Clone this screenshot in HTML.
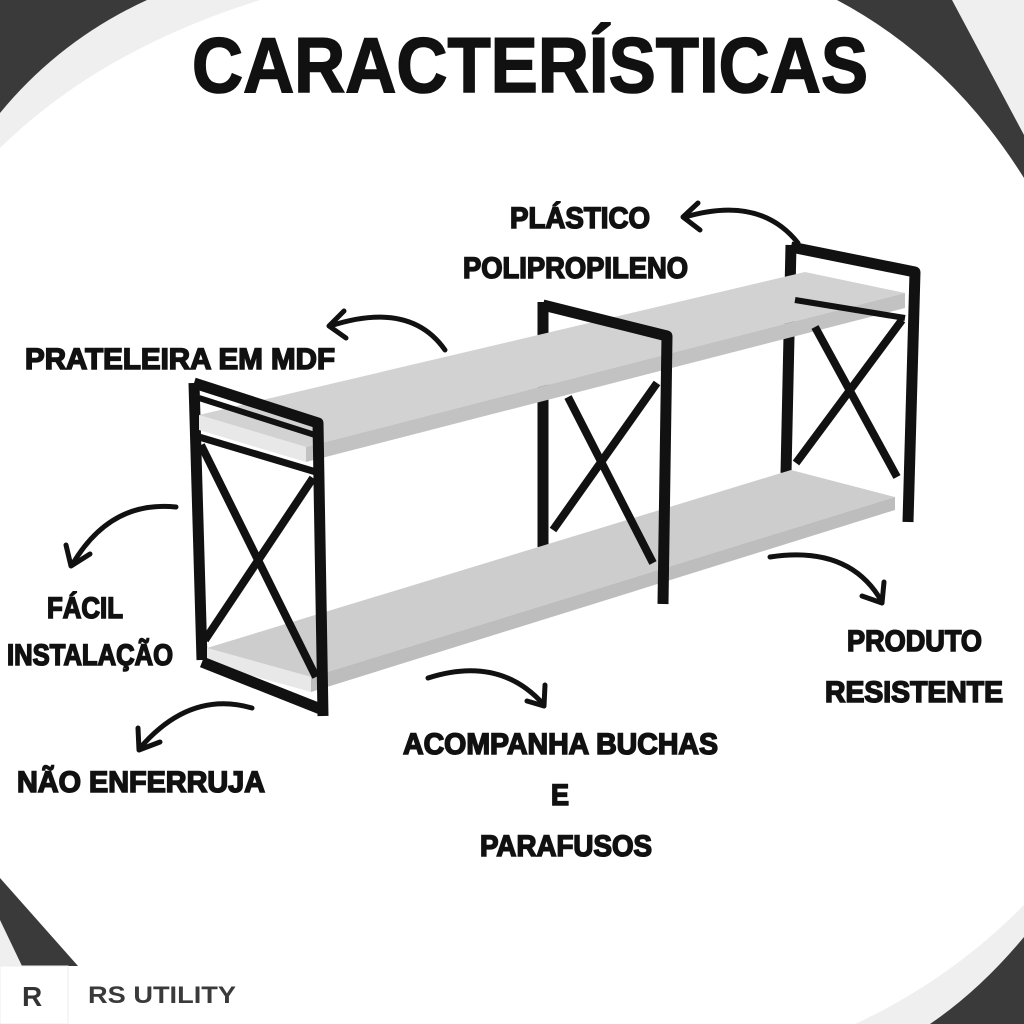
<!DOCTYPE html>
<html><head><meta charset="utf-8"><style>
html,body{margin:0;padding:0;background:#fff;}
svg{display:block;}
.t{font-family:"Liberation Sans",sans-serif;font-weight:bold;fill:#111;stroke:#111;stroke-width:1.6;}
</style></head><body>
<svg width="1024" height="1024" viewBox="0 0 1024 1024" xmlns="http://www.w3.org/2000/svg">
<!-- corners -->
<path d="M0,0 L260,0 Q100,50 0,148 Z" fill="#efefef"/>
<path d="M0,0 L147,0 Q60,40 0,113 Z" fill="#3a3a3a"/>
<path d="M952,0 L1024,0 L1024,135 Z" fill="#efefef"/>
<path d="M837,0 L952,0 L1024,135 L1024,178 Q950,60 837,0 Z" fill="#3a3a3a"/>
<path d="M0,878 L78,966 L0,966 Z" fill="#3a3a3a"/>
<path d="M0,920 L22,966 L0,966 Z" fill="#efefef"/>
<path d="M1024,905 Q950,980 855,1024 L1024,1024 Z" fill="#efefef"/>
<path d="M1024,937 Q980,990 930,1024 L1024,1024 Z" fill="#3a3a3a"/>

<!-- title -->
<text class="t" x="192" y="92" font-size="78" textLength="676" lengthAdjust="spacingAndGlyphs" stroke-width="4">CARACTERÍSTICAS</text>

<!-- shelves -->
<g stroke-linejoin="round">
<polyline points="791,245 786,473" fill="none" stroke="#111" stroke-width="11"/>
<polyline points="543,302 543,547" fill="none" stroke="#111" stroke-width="11"/>
<polyline points="194,383 202,660" fill="none" stroke="#111" stroke-width="11"/>

<!-- top shelf -->
<polygon points="199,415 805,272 905,293 306,447" fill="#d2d2d2"/>
<polygon points="199,415 306,447 306,462 199,430" fill="#e8e8e8"/>
<polygon points="306,447 905,293 905,308 306,462" fill="#c2c2c2"/>
<!-- bottom shelf -->
<polygon points="207,648 791,470 895,497 311,677" fill="#cdcdcd"/>
<polygon points="207,648 311,677 311,692 207,663" fill="#e8e8e8"/>
<polygon points="311,677 895,497 895,510 311,692" fill="#bdbdbd"/>

<!-- left frame -->
<g fill="none" stroke="#111" stroke-width="11">
<polyline points="194,383 318,423 323,716"/>
<polyline points="202,662 323,710"/>
<line x1="199" y1="398" x2="315" y2="435" stroke-width="6"/>
<line x1="199" y1="437" x2="316" y2="472" stroke-width="7"/>
<line x1="201" y1="445" x2="316" y2="677" stroke-width="8"/>
<line x1="313" y1="478" x2="205" y2="640" stroke-width="8"/>
</g>
<!-- middle frame -->
<g fill="none" stroke="#111" stroke-width="11">
<polyline points="543,305 667,336 663,604"/>
<line x1="548" y1="385" x2="660" y2="378" stroke-width="0"/>
<line x1="568" y1="397" x2="653" y2="563" stroke-width="8"/>
<line x1="657" y1="383" x2="553" y2="530" stroke-width="8"/>
</g>
<!-- right frame -->
<g fill="none" stroke="#111" stroke-width="11">
<polyline points="791,247 915,272 908,522"/>
<line x1="795" y1="300" x2="905" y2="318" stroke-width="6"/>
<line x1="815" y1="327" x2="897" y2="477" stroke-width="8"/>
<line x1="902" y1="320" x2="796" y2="463" stroke-width="8"/>
</g>
</g>

<!-- arrows -->
<g fill="none" stroke="#111" stroke-width="5" stroke-linecap="round" stroke-linejoin="round">
<path d="M798,243 Q760,195 685,217"/><path d="M698,203 L683,217 L700,230"/>
<path d="M445,350 Q410,300 330,326"/><path d="M344,311 L329,326 L346,338"/>
<path d="M176,507 Q110,500 72,565"/><path d="M66,545 L71,566 L90,554"/>
<path d="M252,708 Q190,690 140,748"/><path d="M138,728 L139,750 L160,742"/>
<path d="M428,678 Q500,655 544,705"/><path d="M527,701 L544,706 L545,685"/>
<path d="M770,557 Q850,545 882,602"/><path d="M862,596 L882,603 L884,582"/>
</g>

<!-- labels -->
<g class="t" font-size="30">
<text x="510" y="228" textLength="140" lengthAdjust="spacingAndGlyphs">PLÁSTICO</text>
<text x="463" y="278" textLength="225" lengthAdjust="spacingAndGlyphs">POLIPROPILENO</text>
<text x="25" y="369" textLength="310" lengthAdjust="spacingAndGlyphs">PRATELEIRA EM MDF</text>
<text x="47" y="618" textLength="76" lengthAdjust="spacingAndGlyphs">FÁCIL</text>
<text x="7" y="665" textLength="166" lengthAdjust="spacingAndGlyphs">INSTALAÇÃO</text>
<text x="17" y="792" textLength="248" lengthAdjust="spacingAndGlyphs">NÃO ENFERRUJA</text>
<text x="847" y="651" textLength="135" lengthAdjust="spacingAndGlyphs">PRODUTO</text>
<text x="825" y="702" textLength="178" lengthAdjust="spacingAndGlyphs">RESISTENTE</text>
<text x="403" y="754" textLength="315" lengthAdjust="spacingAndGlyphs">ACOMPANHA BUCHAS</text>
<text x="551" y="805" textLength="18" lengthAdjust="spacingAndGlyphs">E</text>
<text x="480" y="856" textLength="172" lengthAdjust="spacingAndGlyphs">PARAFUSOS</text>
</g>

<!-- logo -->
<rect x="0" y="966" width="68" height="58" fill="#fff" stroke="#eee"/>
<text x="22" y="1006" font-family="Liberation Sans,sans-serif" font-weight="bold" font-size="28" fill="#333">R</text>
<text x="88" y="1003" font-family="Liberation Sans,sans-serif" font-weight="bold" font-size="24" fill="#3a3a3a" textLength="148" lengthAdjust="spacingAndGlyphs">RS UTILITY</text>
</svg>
</body></html>
